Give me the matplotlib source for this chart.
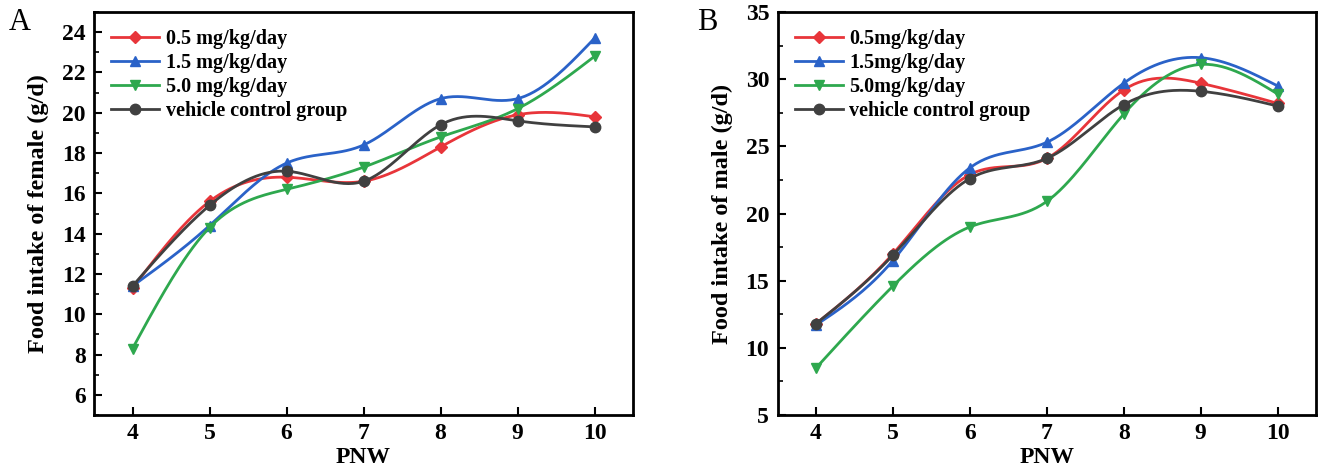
import matplotlib
matplotlib.use('Agg')
import matplotlib.pyplot as plt
import numpy as np

plt.rcParams['font.family'] = ['Liberation Serif', 'DejaVu Serif']
plt.rcParams['font.weight'] = 'bold'

# data
pnw = [4, 5, 6, 7, 8, 9, 10]

female_05 = [11.3, 15.6, 16.8, 16.6, 18.3, 19.9, 19.8]
female_15 = [11.4, 14.4, 17.5, 18.4, 20.7, 20.7, 23.7]
female_50 = [8.3, 14.3, 16.2, 17.3, 18.8, 20.2, 22.8]
female_ctrl = [11.4, 15.4, 17.1, 16.6, 19.4, 19.6, 19.3]

male_05 = [11.8, 17.0, 22.9, 24.1, 29.2, 29.7, 28.2]
male_15 = [11.7, 16.5, 23.4, 25.3, 29.7, 31.6, 29.5]
male_50 = [8.5, 14.6, 19.0, 20.9, 27.4, 31.1, 28.9]
male_ctrl = [11.8, 16.9, 22.6, 24.1, 28.1, 29.1, 28.0]

female_labels = ['0.5 mg/kg/day', '1.5 mg/kg/day', '5.0 mg/kg/day', 'vehicle control group']
male_labels = ['0.5mg/kg/day', '1.5mg/kg/day', '5.0mg/kg/day', 'vehicle control group']

colors = ['#E8353A', '#2A62C8', '#2EA84E', '#404040']
markers = ['D', '^', 'v', 'o']


def spline(x, y, n=200):
    # natural cubic spline, only used to draw the smooth connecting line
    x = np.asarray(x, float)
    y = np.asarray(y, float)
    k = len(x)
    h = np.diff(x)
    A = np.zeros((k, k))
    b = np.zeros(k)
    A[0, 0] = A[-1, -1] = 1
    for i in range(1, k - 1):
        A[i, i - 1] = h[i - 1]
        A[i, i] = 2 * (h[i - 1] + h[i])
        A[i, i + 1] = h[i]
        b[i] = 3 * ((y[i + 1] - y[i]) / h[i] - (y[i] - y[i - 1]) / h[i - 1])
    c = np.linalg.solve(A, b)
    xs = np.linspace(x[0], x[-1], n)
    ys = np.empty_like(xs)
    for j, xv in enumerate(xs):
        i = min(np.searchsorted(x, xv, side='right') - 1, k - 2)
        d = (c[i + 1] - c[i]) / (3 * h[i])
        bb = (y[i + 1] - y[i]) / h[i] - h[i] * (2 * c[i] + c[i + 1]) / 3
        t = xv - x[i]
        ys[j] = y[i] + bb * t + c[i] * t ** 2 + d * t ** 3
    return xs, ys


def draw(ax, series, labels, ylim, yticks, minor, ylabel):
    for ys, lab, col, mk in zip(series, labels, colors, markers):
        ms = 7.5 if mk != 'D' else 6.5
        sx, sy = spline(pnw, ys)
        ax.plot(sx, sy, color=col, lw=2.0)
        ax.plot(pnw, ys, linestyle='none', marker=mk, color=col, ms=ms)
        ax.plot([], [], color=col, lw=2.0, marker=mk, ms=ms, label=lab)
    ax.set_xlim(3.5, 10.5)
    ax.set_ylim(*ylim)
    ax.set_xticks(pnw)
    ax.set_yticks(yticks)
    ax.set_yticks(minor, minor=True)
    ax.tick_params(direction='in', length=6, width=1.5, labelsize=17, pad=6)
    ax.tick_params(axis='y', which='minor', direction='in', length=3.5, width=1.2)
    for s in ax.spines.values():
        s.set_linewidth(2.0)
    for t in ax.get_xticklabels() + ax.get_yticklabels():
        t.set_fontweight('bold')
    ax.set_xlabel('PNW', fontsize=17, fontweight='bold', labelpad=2)
    ax.set_ylabel(ylabel, fontsize=17.5, fontweight='bold', labelpad=9)
    ax.legend(loc='upper left', frameon=False, handlelength=2.4,
              handletextpad=0.3, labelspacing=0.2, borderaxespad=0.45,
              prop={'weight': 'bold', 'size': 14.5})


fig = plt.figure(figsize=(13.28, 4.71), dpi=100)
ax1 = fig.add_axes([0.0708, 0.1189, 0.4059, 0.8556])
ax2 = fig.add_axes([0.5855, 0.1189, 0.4055, 0.8556])

draw(ax1, [female_05, female_15, female_50, female_ctrl], female_labels,
     (5, 25), np.arange(6, 25, 2), np.arange(5, 26, 2), 'Food intake of female (g/d)')
draw(ax2, [male_05, male_15, male_50, male_ctrl], male_labels,
     (5, 35), np.arange(5, 36, 5), np.arange(7.5, 35, 5), 'Food intake of male (g/d)')

fig.text(20 / 1328, 1 - 23 / 471, 'A', fontsize=22, fontweight='normal', ha='center', va='center')
fig.text(707 / 1328, 1 - 23 / 471, 'B', fontsize=22, fontweight='normal', ha='center', va='center')

fig.savefig('out.png', dpi=100)
